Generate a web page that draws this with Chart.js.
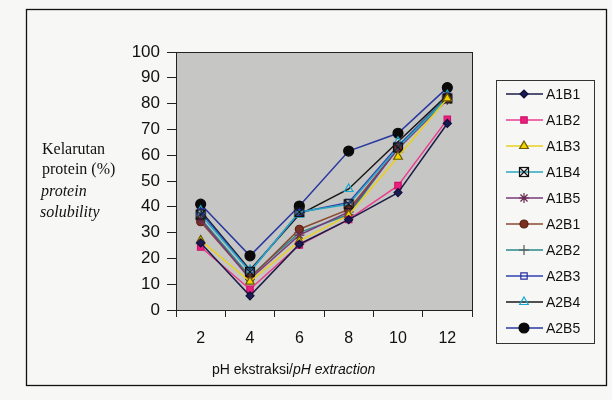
<!DOCTYPE html>
<html>
<head>
<meta charset="utf-8">
<script src="https://cdn.jsdelivr.net/npm/chart.js@4/dist/chart.umd.min.js"></script>
<style>
  html, body { margin: 0; padding: 0; background: #f7f7f5; }
  #wrap { width: 612px; height: 400px; position: relative; }
</style>
</head>
<body>
<div id="wrap"><canvas id="chart" width="612" height="400"></canvas></div>
<script>
const phLabels = ['2', '4', '6', '8', '10', '12'];
const seriesNames = ['A1B1', 'A1B2', 'A1B3', 'A1B4', 'A1B5', 'A2B1', 'A2B2', 'A2B3', 'A2B4', 'A2B5'];

const a1b1 = [26, 5.5, 25.5, 35, 45.5, 72.3];
const a1b2 = [24.4, 8, 25.2, 35.1, 48.2, 73.9];
const a1b3 = [27, 11, 26.7, 36.8, 59.4, 82];
const a1b4 = [37, 14.8, 38, 41, 63, 82];
const a1b5 = [35, 12, 29, 38, 62.5, 81.5];
const a2b1 = [34.2, 12.4, 31.3, 39, 62.5, 82];
const a2b2 = [35.5, 13, 30, 37, 63, 82.5];
const a2b3 = [38, 15, 37.8, 41.7, 63.6, 82.7];
const a2b4 = [38.5, 15.5, 37, 46.9, 65.2, 83.3];
const a2b5 = [41, 21, 40.3, 61.6, 68.5, 86.2];

const yTicks = [0, 10, 20, 30, 40, 50, 60, 70, 80, 90, 100];

// square with an X inside, for A1B4
function boxCross(){
  const c = document.createElement('canvas');
  c.width = 12; c.height = 12;
  const g = c.getContext('2d');
  g.strokeStyle = '#111';
  g.lineWidth = 1.2;
  g.strokeRect(1.5, 1.5, 9, 9);
  g.beginPath();
  g.moveTo(2, 2); g.lineTo(10, 10);
  g.moveTo(10, 2); g.lineTo(2, 10);
  g.stroke();
  return c;
}

function mk(label, data, line, style, fill, stroke, r){
  return {
    label: label, data: data,
    borderColor: line, borderWidth: 1.5, tension: 0, fill: false,
    pointStyle: style, pointRadius: r, pointHoverRadius: r,
    pointBackgroundColor: fill, pointBorderColor: stroke, pointBorderWidth: 1.2
  };
}

const datasets = [
  mk(seriesNames[0], a1b1, '#1c1c4a', 'rectRot', '#1a1a55', '#10103a', 4),
  mk(seriesNames[1], a1b2, '#e8408e', 'rect', '#e8207e', '#d0106a', 4.5),
  mk(seriesNames[2], a1b3, '#e8d020', 'triangle', '#f2d200', '#6a5a00', 5),
  mk(seriesNames[3], a1b4, '#28a8c0', boxCross(), '#fff', '#111', 5),
  mk(seriesNames[4], a1b5, '#7a3a78', 'star', '#6a2a50', '#6a2a50', 5),
  mk(seriesNames[5], a2b1, '#8a4a30', 'circle', '#7a3020', '#5a2010', 4),
  mk(seriesNames[6], a2b2, '#2a8a8a', 'cross', '#555', '#555', 5),
  mk(seriesNames[7], a2b3, '#3040b0', 'rect', 'rgba(0,0,0,0)', '#2a30a0', 4.5),
  mk(seriesNames[8], a2b4, '#181818', 'triangle', 'rgba(0,0,0,0)', '#18a8d0', 5),
  mk(seriesNames[9], a2b5, '#2838a0', 'circle', '#0a0a0a', '#0a0a0a', 5)
];

const decor = {
  id: 'decor',
  beforeDraw(chart){
    const ctx = chart.ctx, a = chart.chartArea;
    ctx.save();
    ctx.fillStyle = '#c6c6c4';
    ctx.fillRect(a.left, a.top, a.right - a.left, a.bottom - a.top);
    ctx.restore();
  },
  afterDraw(chart){
    const ctx = chart.ctx, a = chart.chartArea;
    ctx.save();
    // plot border
    ctx.strokeStyle = '#222';
    ctx.lineWidth = 1;
    ctx.strokeRect(a.left + 0.5, a.top + 0.5, a.right - a.left, a.bottom - a.top);
    // outer frame
    ctx.strokeStyle = '#111';
    ctx.lineWidth = 1.3;
    ctx.strokeRect(26.5, 9.5, 580, 376);

    // y title
    ctx.fillStyle = '#111';
    ctx.textBaseline = 'middle';
    ctx.textAlign = 'left';
    ctx.font = '16px "Liberation Serif"';
    ctx.fillText('Kelarutan', 42, 150);
    ctx.fillText('protein (%)', 42, 170);
    ctx.font = 'italic 16px "Liberation Serif"';
    ctx.fillText('protein', 41, 192);
    ctx.fillText('solubility', 40, 213);

    // x title
    ctx.font = '14px "Liberation Sans"';
    const p1 = 'pH ekstraksi/';
    ctx.fillText(p1, 212, 370);
    const w = ctx.measureText(p1).width;
    ctx.font = 'italic 14px "Liberation Sans"';
    ctx.fillText('pH extraction', 212 + w, 370);

    // legend
    ctx.lineWidth = 1;
    ctx.strokeStyle = '#333';
    ctx.strokeRect(496.5, 80.5, 98, 263);
    chart.data.datasets.forEach((ds, i) => {
      const y = 94 + i * 26;
      ctx.strokeStyle = ds.borderColor;
      ctx.lineWidth = 1.5;
      ctx.beginPath();
      ctx.moveTo(506, y); ctx.lineTo(543, y);
      ctx.stroke();
      ctx.fillStyle = ds.pointBackgroundColor;
      ctx.strokeStyle = ds.pointBorderColor;
      ctx.lineWidth = ds.pointBorderWidth;
      Chart.helpers.drawPoint(ctx, {
        pointStyle: ds.pointStyle, radius: ds.pointRadius, rotation: 0,
        borderWidth: ds.pointBorderWidth
      }, 524, y);
      ctx.fillStyle = '#111';
      ctx.font = '14px "Liberation Sans"';
      ctx.fillText(ds.label, 546, y + 1);
    });
    ctx.restore();
  }
};

Chart.defaults.font.family = '"Liberation Sans", Arial, sans-serif';
Chart.defaults.color = '#111';

new Chart(document.getElementById('chart'), {
  type: 'line',
  data: { labels: phLabels, datasets: datasets },
  options: {
    responsive: false,
    animation: false,
    layout: { padding: { top: 52, right: 140, bottom: 0, left: 0 } },
    plugins: { legend: { display: false }, tooltip: { enabled: false } },
    scales: {
      x: {
        offset: true,
        grid: { offset: true, drawOnChartArea: false, drawTicks: true, tickLength: 7, color: '#222' },
        border: { display: false },
        ticks: { padding: 12, font: { size: 16 }, color: '#111' },
        afterFit(s){ s.height = 90; }
      },
      y: {
        min: 0, max: 100,
        afterBuildTicks(s){ s.ticks = yTicks.map(v => ({ value: v })); },
        grid: { drawOnChartArea: false, drawTicks: true, tickLength: 9, color: '#222' },
        border: { display: false },
        ticks: { padding: 7, font: { size: 17 }, color: '#111' },
        afterFit(s){ s.width = 176; }
      }
    }
  },
  plugins: [decor]
});
</script>
</body>
</html>
